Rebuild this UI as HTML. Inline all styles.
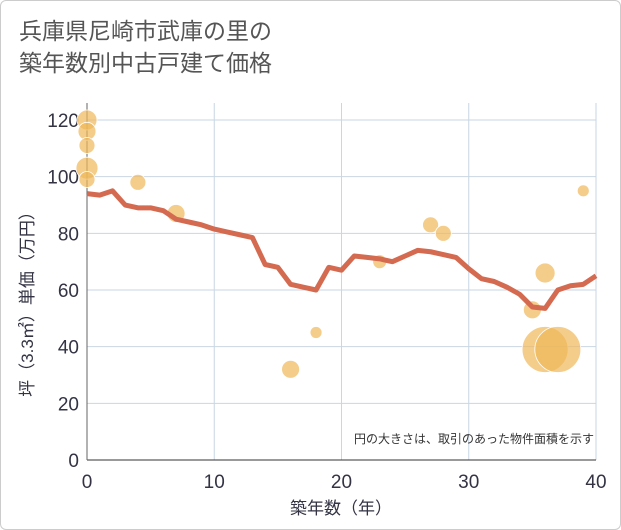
<!DOCTYPE html>
<html><head><meta charset="utf-8"><style>
body{margin:0;background:#fff;font-family:"Liberation Sans","Noto Sans CJK JP",sans-serif}
#c{position:relative;width:619px;height:528px;border:1px solid #ccc;border-radius:6px;background:#fff;overflow:hidden}
.t{position:absolute;left:18px;color:#555;font-size:23px;line-height:32px}
</style></head><body>
<div id="c">
<div class="t" style="top:14px">兵庫県尼崎市武庫の里の<br>築年数別中古戸建て価格</div>
<svg id="s" width="621" height="530" style="position:absolute;left:-1px;top:-1px"></svg>
</div>
<script>
const lineYears=[0,1,2,3,4,5,6,7,8,9,10,11,12,13,14,15,16,17,18,19,20,21,22,23,24,25,26,27,28,29,30,31,32,33,34,35,36,37,38,39,40];
const lineValues=[94,93.5,95,90,89,89,88,85,84,83,81.5,80.5,79.5,78.5,69,68,62,61,60,68,67,72,71.5,71,70,72,74,73.5,72.5,71.5,67.5,64,63,61,58.5,54,53.5,60,61.5,62,65];
const bubbleX=[0,0,0,0,0,4,7,16,18,23,27,28,35,36,36,37,39];
const bubbleY=[120,116,111,103,99,98,87,32,45,70,83,80,53,66,39,39,95];
const bubbleSize=[10,9,8,11,8,8,9,9,6,7,8,8,9,10,23,23,6];
const xTicks=[0,10,20,30,40];
const yTicks=[0,20,40,60,80,100,120];
const s=document.getElementById('s');const NS='http://www.w3.org/2000/svg';
const X=v=>87+v*(596-87)/40, Y=v=>460-v*(340/120);
function el(t,a,p){const e=document.createElementNS(NS,t);for(const k in a)e.setAttribute(k,a[k]);(p||s).appendChild(e);return e;}
const g=el('g',{});
xTicks.forEach(v=>{const l=el('line',{x1:X(v),x2:X(v),y1:103,y2:460,stroke:'#c9d6e3','stroke-width':1},g);
const t=el('text',{x:X(v),y:488,'text-anchor':'middle','font-size':19,fill:'#334'});t.textContent=v;
});
yTicks.forEach(v=>{el('line',{x1:87,x2:596,y1:Y(v),y2:Y(v),stroke:'#c9d6e3','stroke-width':1},g);
const t=el('text',{x:79,y:Y(v)+7,'text-anchor':'end','font-size':19,fill:'#334'});t.textContent=v;
});
el('line',{x1:87,x2:596,y1:460,y2:460,stroke:'#333','stroke-width':1});
el('line',{x1:87,x2:87,y1:103,y2:460,stroke:'#666','stroke-width':1});
const bg=el('g',{});
bubbleX.forEach((x,i)=>{const c=el('circle',{cx:X(x),cy:Y(bubbleY[i]),r:bubbleSize[i],fill:'#f0b85a','fill-opacity':0.7,stroke:'#fff','stroke-width':0.8},bg);
});
const p=el('polyline',{points:lineYears.map((x,i)=>X(x)+','+Y(lineValues[i])).join(' '),fill:'none',stroke:'#d46a50','stroke-width':5,'stroke-linejoin':'round'});

const n=el('text',{x:594,y:443,'text-anchor':'end','font-size':12,fill:'#333'});n.textContent='円の大きさは、取引のあった物件面積を示す';

const xt=el('text',{x:341,y:514,'text-anchor':'middle','font-size':17,fill:'#334'});xt.textContent='築年数（年）';

const yt=el('text',{x:0,y:0,'text-anchor':'middle','font-size':17,fill:'#334',transform:'translate(33,300) rotate(-90)'});yt.textContent='坪（3.3㎡）単価（万円）';

</script></body></html>
